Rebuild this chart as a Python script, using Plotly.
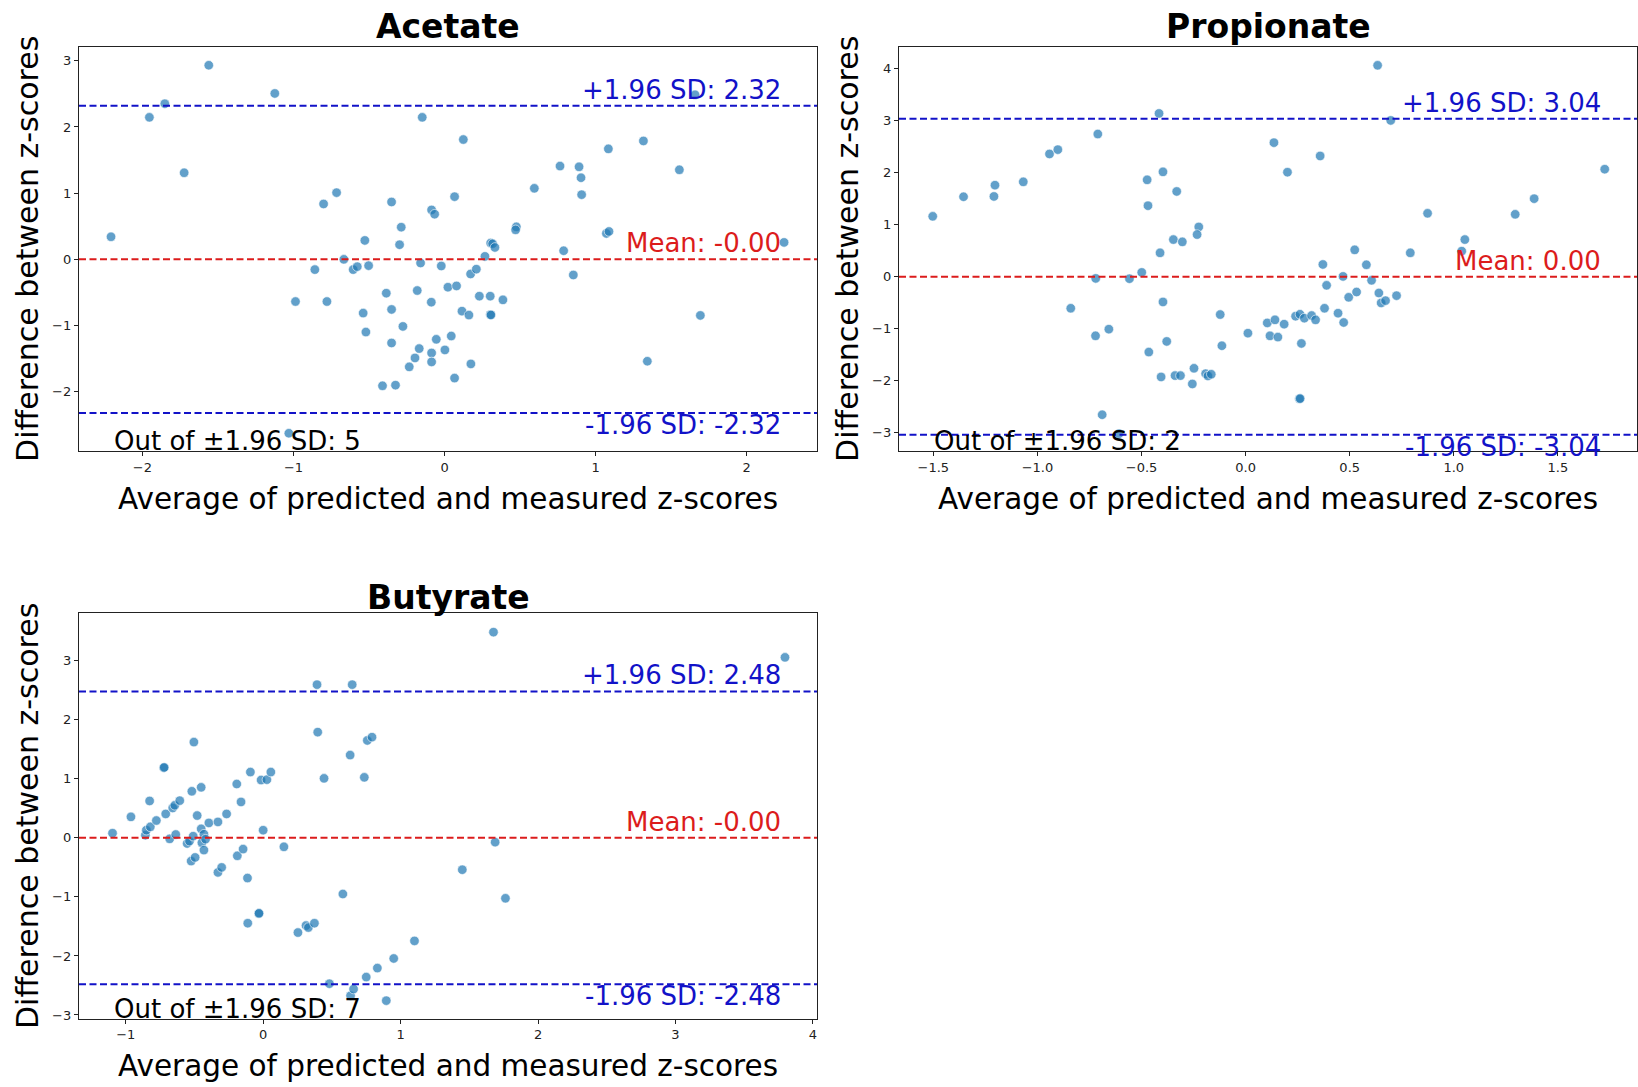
import plotly.graph_objects as go

# Bland-Altman style agreement plots for three short-chain fatty acids
panel_titles = ["Acetate", "Propionate", "Butyrate"]

acetate_avg = [
    -2.208, -1.561, -1.954, -1.852, -1.724, -1.124, -0.148, 0.124, -0.715, -0.801,
    -0.351, 0.066, -0.086, -0.066, -0.287, -0.298, -0.528, -0.667, -0.859, -0.605,
    -0.578, -0.503, -0.159, -0.022, 0.172, 0.210, -0.987, -0.779, -0.386, -0.181,
    0.022, 0.079, -0.088, 0.230, -0.539, -0.351, 0.115, 0.161, -0.521, -0.276,
    -0.351, 0.044, -0.055, -0.168, -0.086, 0.002, -0.086, -0.196, -0.234, 0.174,
    0.066, -0.411, -0.325, -1.031, 0.267, 0.305, 0.318, 0.333, 0.475, 0.470,
    0.594, 0.764, 0.890, 0.903, 0.907, 1.084, 1.316, 1.554, 1.658, 1.071,
    1.088, 0.788, 0.852, 2.247, 1.693, 1.342, 0.386, 0.302, 0.303, 0.307,
]
acetate_diff = [
    0.341, 2.932, 2.145, 2.351, 1.308, 2.506, 2.145, 1.810, 1.008, 0.837,
    0.867, 0.947, 0.747, 0.682, 0.486, 0.221, 0.286, 0.000, -0.155, -0.155,
    -0.110, -0.095, -0.055, -0.100, -0.221, -0.148, -0.637, -0.637, -0.511, -0.471,
    -0.421, -0.401, -0.647, -0.556, -0.812, -0.757, -0.782, -0.842, -1.098, -1.013,
    -1.263, -1.158, -1.208, -1.348, -1.414, -1.368, -1.549, -1.489, -1.624, -1.579,
    -1.794, -1.910, -1.900, -2.627, 0.045, 0.246, 0.236, 0.180, 0.491, 0.446,
    1.073, 1.409, 1.398, 1.233, 0.977, 1.669, 1.789, 1.353, 2.486, 0.391,
    0.421, 0.130, -0.236, 0.256, -0.847, -1.539, -0.612, -0.556, -0.835, -0.840,
]

propionate_avg = [
    -1.503, -1.355, -1.209, -1.204, -1.068, -0.942, -0.902, -0.710, -0.416, 0.136,
    -0.397, -0.473, -0.331, -0.469, -0.225, -0.233, -0.347, -0.304, -0.411, -0.499,
    -0.720, -0.558, -0.840, -0.397, -0.122, -0.721, -0.657, -0.379, -0.465, -0.114,
    0.011, 0.104, 0.117, 0.141, 0.155, -0.406, -0.339, -0.313, -0.248, -0.256,
    -0.192, -0.181, -0.165, -0.689, -0.608, 0.634, 0.697, 0.358, 0.201, 1.725,
    1.386, 1.295, 0.874, 1.053, 1.038, 0.791, 0.524, 0.371, 0.580, 0.468,
    0.389, 0.605, 0.495, 0.533, 0.640, 0.651, 0.672, 0.725, 0.379, 0.444,
    0.471, 0.185, 0.240, 0.261, 0.282, 0.317, 0.336, 0.268, 0.258, 0.262,
]
propionate_diff = [
    1.162, 1.539, 1.545, 1.762, 1.826, 2.363, 2.446, 2.746, 3.142, 2.580,
    2.018, 1.865, 1.641, 1.367, 0.958, 0.811, 0.715, 0.671, 0.460, 0.083,
    -0.032, -0.038, -0.607, -0.485, -0.728, -1.137, -1.009, -1.245, -1.450, -1.328,
    -1.086, -0.888, -1.137, -0.830, -1.162, -1.928, -1.903, -1.903, -1.762, -2.063,
    -1.865, -1.909, -1.877, -2.656, -3.020, 4.068, 3.008, 2.324, 2.011, 2.069,
    1.502, 1.201, 1.220, 0.715, 0.492, 0.460, 0.517, 0.236, 0.230, 0.006,
    -0.166, -0.070, -0.396, -0.294, -0.313, -0.504, -0.460, -0.364, -0.607, -0.702,
    -0.881, -0.913, -0.760, -0.722, -0.798, -0.747, -0.830, -1.284, -2.350, -2.345,
]

butyrate_avg = [
    -1.096, -0.962, -0.857, -0.850, -0.821, -0.777, -0.826, -0.724, -0.720, -0.709,
    -0.658, -0.643, -0.607, -0.680, -0.636, -0.519, -0.451, -0.504, -0.480, -0.553,
    -0.536, -0.509, -0.524, -0.495, -0.451, -0.431, -0.446, -0.419, -0.431, -0.395,
    -0.329, -0.266, -0.329, -0.302, -0.192, -0.161, -0.093, -0.015, 0.027, 0.056,
    0.000, -0.188, -0.146, -0.114, 0.151, -0.112, -0.032, -0.030, 0.253, 0.312,
    0.329, 0.373, 0.392, 0.648, 0.397, 0.443, 0.633, 0.758, 0.792, 0.736,
    0.580, 0.482, 0.636, 0.658, 0.750, 0.831, 0.950, 0.896, 1.101, 1.449,
    1.676, 3.797, 1.688, 1.763,
]
butyrate_diff = [
    0.079, 0.355, 0.045, 0.129, 0.186, 0.293, 0.625, 1.187, 1.192, 0.405,
    0.506, 0.551, 0.630, -0.017, 0.056, 0.788, 0.855, 1.621, 0.377, -0.096,
    -0.056, 0.028, -0.394, -0.332, 0.152, 0.062, -0.084, -0.023, -0.208, 0.253,
    0.270, 0.405, -0.585, -0.501, 0.912, 0.608, 1.114, 0.979, 0.985, 1.114,
    0.129, -0.304, -0.191, -0.681, -0.152, -1.446, -1.283, -1.278, -1.604, -1.486,
    -1.519, -1.446, 2.594, 2.594, 1.790, 1.007, 1.401, 1.649, 1.705, 1.024,
    -0.951, -2.470, -2.673, -2.561, -2.358, -2.206, -2.043, -2.757, -1.745, -0.540,
    3.483, 3.056, -0.073, -1.024,
]

# mean difference and 1.96 SD limits of agreement per panel
mean_diff = [-0.0, 0.0, -0.0]
loa_196 = [2.32, 3.04, 2.48]

avg_series = [acetate_avg, propionate_avg, butyrate_avg]
diff_series = [acetate_diff, propionate_diff, butyrate_diff]

FIG_W, FIG_H = 1638, 1087
FONT = "DejaVu Sans"
DOT = "rgba(31,119,180,0.7)"
RED = "#dc1c1c"
BLUE = "#1212c8"
AXC = "#222222"

# plot boxes in pixels: left, top, right, bottom
boxes = [(79, 46.7, 817, 453), (899, 46.7, 1637, 453), (79, 615.7, 817, 1022.3)]
title_gap = [0, 0, 5]
x_ranges = [[-2.42, 2.465], [-1.665, 1.88], [-1.34, 4.03]]
y_ranges = [[-2.9, 3.215], [-3.36, 4.43], [-3.06, 3.80]]
x_tick_step = [1, 0.5, 1]
x_tick_fmt = ["d", ".1f", "d"]


def px_x(p):
    return p / FIG_W


def px_y(p):
    return 1 - p / FIG_H


fig = go.Figure()
layout = dict(
    width=FIG_W, height=FIG_H,
    margin=dict(l=0, r=0, t=0, b=0),
    paper_bgcolor="white", plot_bgcolor="white",
    showlegend=False,
    font=dict(family=FONT, color="black"),
)
shapes = []
annotations = []

for i, title in enumerate(panel_titles):
    sfx = "" if i == 0 else str(i + 1)
    left, top, right, bottom = boxes[i]
    axis_common = dict(
        showline=True, mirror=True, linecolor=AXC, linewidth=1.3,
        ticks="outside", ticklen=4, tickwidth=1, tickcolor=AXC,
        showgrid=False, zeroline=False,
        tickfont=dict(family=FONT, size=13, color=AXC),
    )
    layout["xaxis" + sfx] = dict(
        axis_common, domain=[px_x(left), px_x(right)], range=x_ranges[i],
        anchor="y" + sfx, dtick=x_tick_step[i], tick0=0, tickformat=x_tick_fmt[i],
    )
    layout["yaxis" + sfx] = dict(
        axis_common, domain=[px_y(bottom), px_y(top)], range=y_ranges[i],
        anchor="x" + sfx, dtick=1, tick0=0, tickformat="d",
    )

    xs, ys = avg_series[i], diff_series[i]
    fig.add_trace(go.Scatter(
        x=xs, y=ys, mode="markers", xaxis="x" + sfx, yaxis="y" + sfx,
        marker=dict(size=9.5, color=DOT, line=dict(color="white", width=0.6)),
        hoverinfo="x+y",
    ))

    m, sd = mean_diff[i], loa_196[i]
    for val, col in [(m, RED), (m + sd, BLUE), (m - sd, BLUE)]:
        shapes.append(dict(
            type="line", xref="x" + sfx + " domain", yref="y" + sfx,
            x0=0, x1=1, y0=val, y1=val,
            line=dict(color=col, width=2, dash="7px,3.5px"),
        ))

    n_out = sum(1 for d in ys if d > m + sd or d < m - sd)

    annotations += [
        dict(text=f"Mean: {m:.2f}", xref="x" + sfx + " domain", yref="y" + sfx,
             x=0.952, y=m, xanchor="right", yanchor="bottom", showarrow=False,
             borderpad=0, font=dict(size=26, color=RED)),
        dict(text=f"+1.96 SD: {m + sd:.2f}", xref="x" + sfx + " domain", yref="y" + sfx,
             x=0.952, y=m + sd, xanchor="right", yanchor="bottom", showarrow=False,
             borderpad=0, font=dict(size=26, color=BLUE)),
        dict(text=f"-1.96 SD: {m - sd:.2f}", xref="x" + sfx + " domain", yref="y" + sfx,
             x=0.952, y=m - sd, xanchor="right", yanchor="top", yshift=4, showarrow=False,
             borderpad=0, font=dict(size=26, color=BLUE)),
        dict(text=f"Out of \u00b11.96 SD: {n_out}", xref="x" + sfx + " domain",
             yref="y" + sfx + " domain", x=0.046, y=0, xanchor="left", yanchor="bottom",
             yshift=-6, showarrow=False, borderpad=0, font=dict(size=26, color="black")),
        # panel title
        dict(text=f"<b>{title}</b>", xref="paper", yref="paper",
             x=px_x((left + right) / 2), y=px_y(top + title_gap[i]), xanchor="center",
             yanchor="bottom", showarrow=False, borderpad=0, font=dict(size=33, color="black")),
        # axis titles
        dict(text="Average of predicted and measured z-scores", xref="paper", yref="paper",
             x=px_x((left + right) / 2), y=px_y(bottom + 48), xanchor="center", yanchor="middle",
             showarrow=False, borderpad=0, font=dict(size=29.5, color="black")),
        dict(text="Difference between z-scores", xref="paper", yref="paper",
             x=px_x(left - 51), y=px_y((top + bottom) / 2), xanchor="center", yanchor="middle",
             textangle=-90, showarrow=False, borderpad=0, font=dict(size=30, color="black")),
    ]

layout["shapes"] = shapes
layout["annotations"] = annotations
fig.update_layout(**layout)
fig.write_html("out.html")
